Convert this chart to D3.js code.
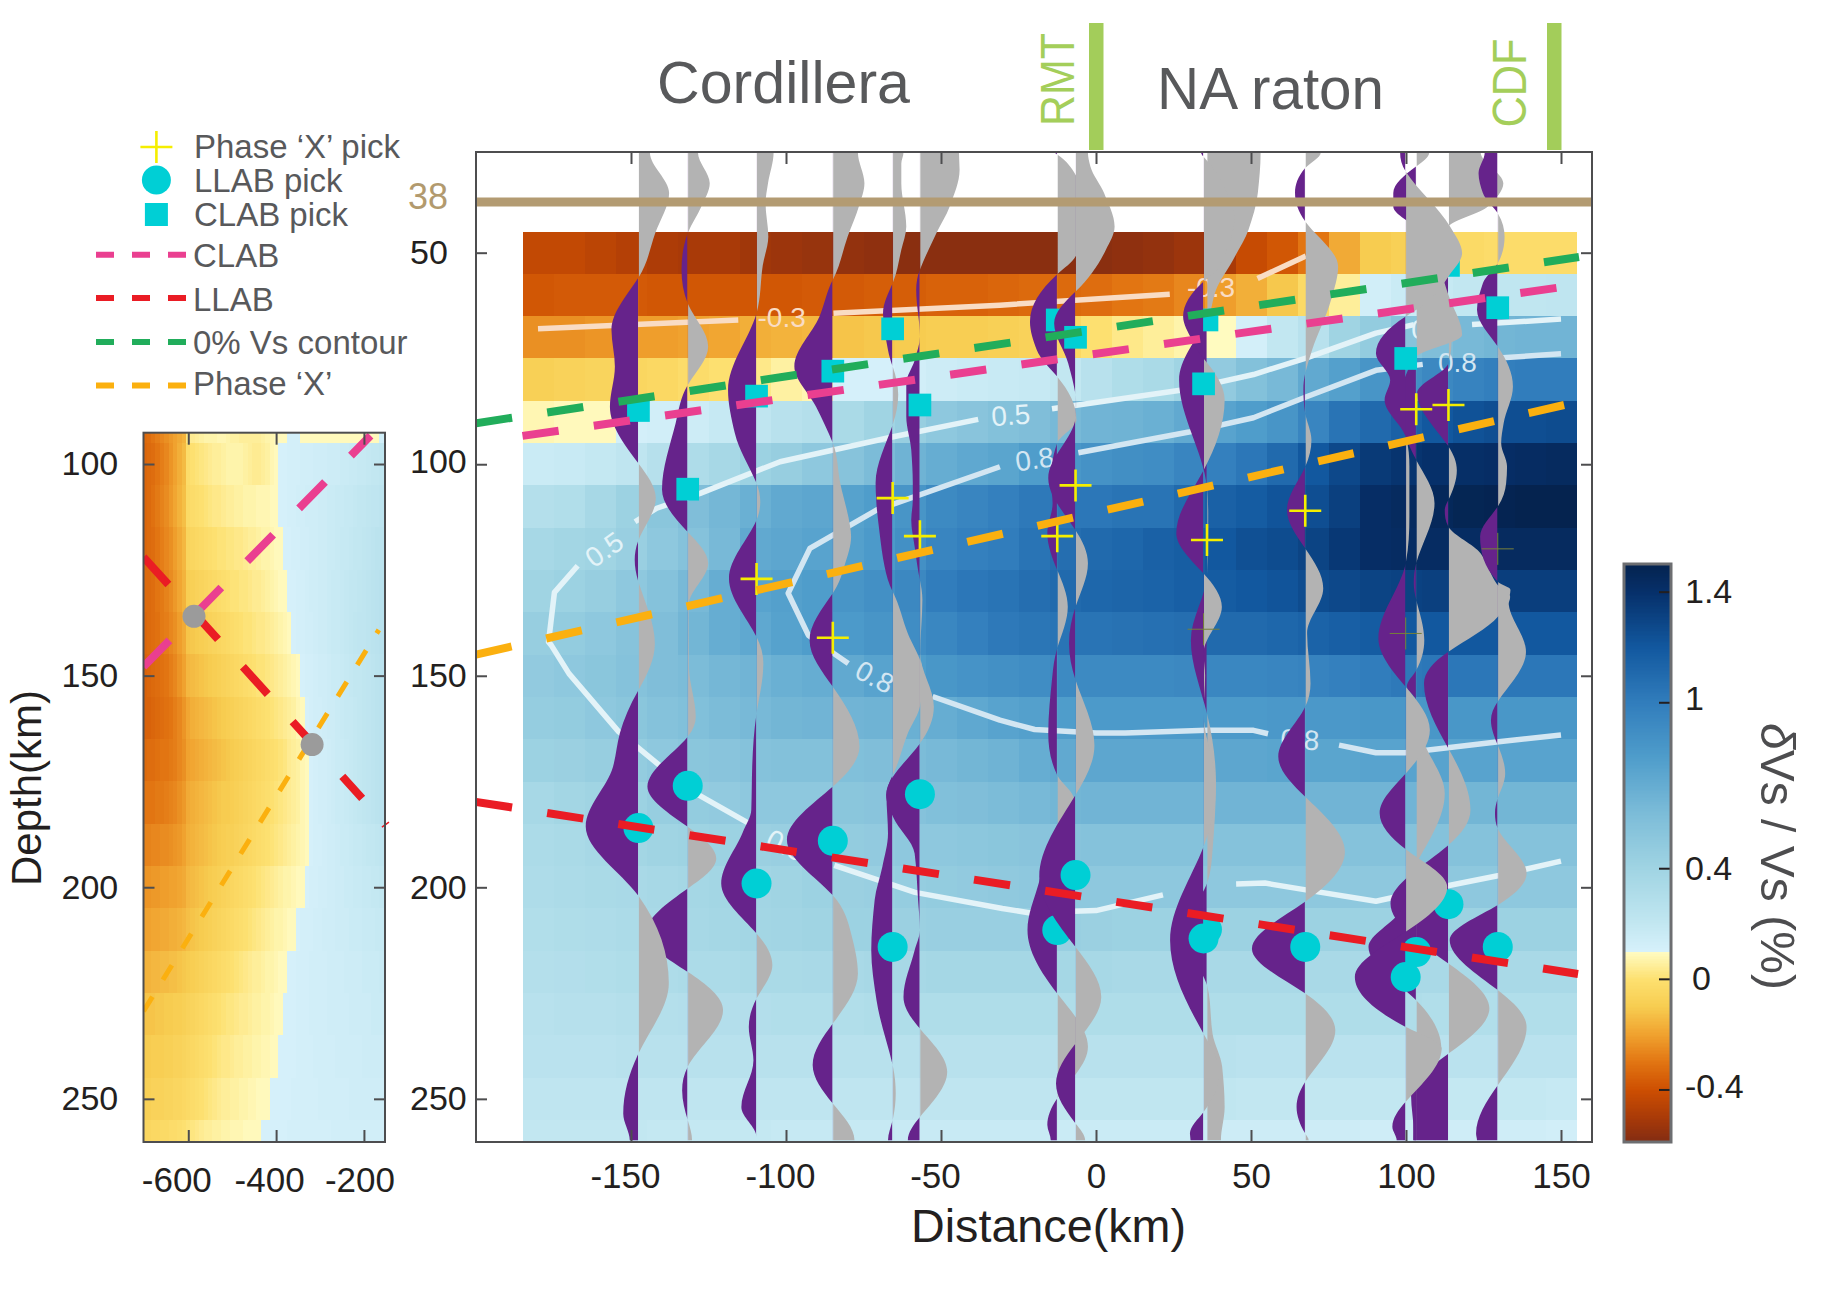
<!DOCTYPE html>
<html>
<head>
<meta charset="utf-8">
<script src="https://cdnjs.cloudflare.com/ajax/libs/d3/7.8.5/d3.min.js"></script>
<style>
  body { margin: 0; background: #fff; }
  text { font-family: "Liberation Sans", Arial, sans-serif; }
</style>
</head>
<body>
<div id="graphArea"></div>
<script>
// main section, Vs anomaly cells (%)
const mapCols = [-180,-170,-160,-150,-140,-130,-120,-110,-100,-90,-80,-70,-60,-50,-40,-30,-20,-10,0,10,20,30,40,50,60,70,80,90,100,110,120,130,140,150];
const mapDepths = [50,60,70,80,90,100,110,120,130,140,150,160,170,180,190,200,210,220,230,240,250,260];
const mapRows = [
  [-.43,-.43,-.45,-.47,-.49,-.5,-.5,-.52,-.53,-.54,-.55,-.56,-.57,-.57,-.57,-.57,-.57,-.57,-.57,-.56,-.55,-.53,-.5,-.42,-.38,-.3,-.18,-.1,-.08,-.04,-.03,-.02,-.02,-.02],
  [-.38,-.37,-.37,-.37,-.38,-.38,-.38,-.38,-.38,-.37,-.37,-.36,-.36,-.35,-.35,-.34,-.33,-.33,-.32,-.3,-.29,-.26,-.21,-.17,-.11,-.03,.05,.13,.16,.18,.2,.21,.21,.22],
  [-.24,-.24,-.23,-.21,-.21,-.2,-.19,-.17,-.16,-.15,-.12,-.11,-.1,-.09,-.09,-.08,-.07,-.04,0,.03,.05,.07,.095,.12,.2,.26,.4,.47,.54,.58,.62,.64,.65,.65],
  [-.08,-.07,-.06,-.05,-.04,-.02,0,.03,.06,.08,.11,.11,.13,.15,.16,.17,.18,.2,.26,.31,.34,.4,.48,.56,.62,.72,.78,.85,.89,.93,.96,.99,1,1],
  [.08,.09,.09,.12,.13,.15,.18,.22,.26,.28,.34,.4,.45,.5,.53,.56,.58,.62,.65,.66,.68,.72,.76,.8,.85,.95,1.05,1.1,1.15,1.2,1.23,1.25,1.25,1.26],
  [.16,.17,.19,.22,.27,.32,.36,.42,.45,.5,.54,.6,.66,.7,.73,.75,.8,.84,.87,.89,.9,.95,.98,1.03,1.1,1.2,1.28,1.35,1.38,1.4,1.41,1.42,1.43,1.44],
  [.28,.3,.36,.42,.52,.58,.63,.68,.72,.74,.77,.8,.85,.92,.95,.98,1.02,1.03,1.03,1.05,1.05,1.1,1.15,1.18,1.22,1.25,1.32,1.42,1.44,1.46,1.48,1.49,1.5,1.5],
  [.36,.38,.4,.44,.5,.55,.62,.72,.74,.76,.78,.82,.88,.95,.98,1,1.05,1.08,1.1,1.12,1.15,1.17,1.2,1.24,1.26,1.3,1.36,1.42,1.43,1.43,1.43,1.44,1.44,1.44],
  [.4,.42,.45,.5,.55,.62,.7,.76,.78,.8,.85,.88,.93,1,1.03,1.05,1.08,1.1,1.12,1.13,1.14,1.16,1.18,1.2,1.22,1.26,1.28,1.3,1.31,1.32,1.32,1.33,1.33,1.33],
  [.45,.47,.5,.54,.58,.64,.7,.73,.77,.8,.82,.85,.9,.94,.98,1.02,1.04,1.05,1.05,1.06,1.07,1.08,1.1,1.1,1.12,1.14,1.16,1.18,1.2,1.2,1.2,1.2,1.2,1.2],
  [.48,.5,.52,.55,.58,.6,.63,.65,.68,.7,.72,.76,.8,.84,.86,.88,.9,.92,.92,.92,.92,.93,.94,.94,.95,.96,.98,1,1.02,1.03,1.03,1.03,1.03,1.03],
  [.46,.47,.5,.52,.55,.57,.6,.62,.64,.65,.65,.66,.68,.7,.73,.76,.78,.8,.82,.82,.82,.82,.82,.82,.83,.83,.83,.84,.84,.84,.84,.84,.84,.84],
  [.42,.43,.45,.47,.5,.52,.53,.55,.56,.56,.57,.58,.6,.62,.64,.66,.7,.72,.74,.74,.74,.74,.74,.74,.75,.75,.75,.76,.76,.76,.76,.76,.76,.76],
  [.36,.38,.4,.42,.45,.47,.48,.5,.5,.5,.52,.53,.55,.57,.58,.6,.62,.64,.65,.65,.65,.65,.65,.65,.65,.65,.65,.65,.65,.65,.64,.64,.64,.64],
  [.33,.34,.36,.38,.4,.41,.42,.43,.44,.46,.47,.48,.5,.5,.51,.52,.53,.54,.55,.55,.55,.55,.55,.55,.55,.55,.55,.55,.55,.55,.55,.55,.55,.55],
  [.32,.33,.34,.35,.36,.37,.38,.39,.4,.42,.43,.44,.46,.47,.48,.49,.5,.5,.5,.5,.5,.5,.5,.5,.5,.5,.5,.5,.5,.5,.5,.5,.5,.5],
  [.3,.31,.32,.33,.35,.36,.37,.38,.39,.4,.42,.42,.43,.44,.44,.44,.44,.44,.43,.42,.42,.42,.42,.42,.42,.42,.42,.42,.42,.42,.42,.42,.42,.42],
  [.28,.29,.3,.31,.32,.33,.33,.34,.34,.35,.35,.36,.36,.37,.37,.37,.37,.37,.36,.35,.35,.35,.35,.35,.35,.35,.35,.35,.35,.35,.35,.35,.35,.35],
  [.26,.27,.27,.28,.28,.29,.29,.29,.3,.3,.3,.31,.31,.31,.31,.31,.31,.31,.31,.31,.31,.31,.31,.31,.31,.31,.31,.31,.31,.3,.3,.3,.3,.3],
  [.25,.25,.25,.26,.26,.26,.26,.26,.26,.26,.26,.26,.26,.26,.26,.26,.26,.26,.26,.26,.26,.26,.26,.25,.25,.25,.25,.25,.25,.25,.25,.25,.25,.25],
  [.22,.22,.22,.22,.22,.22,.22,.22,.22,.22,.22,.22,.22,.22,.22,.22,.22,.21,.21,.21,.21,.21,.21,.2,.2,.2,.2,.2,.2,.19,.19,.19,.19,.18],
  [.2,.2,.2,.2,.19,.19,.19,.19,.18,.18,.18,.18,.17,.17,.17,.17,.17,.16,.16,.16,.16,.16,.15,.15,.15,.15,.15,.14,.14,.14,.14,.14,.14,.13]
];

// left panel cells
const sideCols = d3.range(-700, -150, 10);
const sideDepths = [90,100,110,120,130,140,150,160,170,180,190,200,210,220,230,240,250,260];
const sideRows = [
  [-.33,-.32,-.3,-.28,-.26,-.24,-.22,-.2,-.18,-.16, .02,.04,.05,.06,.07,.07,.07,.08,.08,.07,.06,.06,.05,.05,.05,.05,.05,.06,.07,.08,.09,.09, .09, .12,.12,.12, .09,.09,.09,.09,.09,.09,.09,.09,.09,.09,.09,.09,.09,.09,.09,.09,.09,.09, .13],
  [-.34,-.33,-.32,-.3,-.28,-.26,-.23,-.2,-.17,-.14, -.02,0,.01,.02,.03,.04,.05,.05,.06,.07,.07,.07,.07,.06,.05,.04,.04,.05,.06,.08,.09, .11,.11,.12,.12,.12,.13,.13,.13,.14,.14,.14,.15,.15,.15,.16,.16,.17,.17,.18,.18,.19,.2,.2,.21],
  [-.34,-.33,-.31,-.29,-.27,-.25,-.22,-.19,-.16,-.13, -.03,-.02,-.01,0,.01,.02,.03,.03,.04,.05,.05,.06,.06,.07,.07,.07,.08,.08,.08,.09,.09, .11,.11,.12,.12,.13,.13,.14,.14,.14,.15,.15,.16,.16,.17,.17,.18,.18,.19,.2,.2,.21,.22,.22,.23],
  [-.34,-.33,-.32,-.3,-.28,-.26,-.24,-.21,-.18,-.15, -.06,-.05,-.04,-.03,-.02,-.01,0,.01,.01,.02,.02,.03,.03,.04,.05,.05,.06,.07,.07,.08,.09,.09, .11,.11,.12,.12,.13,.13,.14,.14,.15,.15,.16,.16,.17,.18,.18,.19,.2,.2,.21,.22,.23,.24,.24],
  [-.33,-.33,-.32,-.3,-.29,-.27,-.25,-.22,-.19,-.16, -.09,-.08,-.07,-.06,-.05,-.04,-.03,-.02,-.01,0,.01,.01,.02,.02,.03,.04,.04,.05,.06,.07,.08,.09,.09, .11,.11,.12,.12,.13,.14,.14,.15,.15,.16,.17,.17,.18,.19,.2,.2,.21,.22,.23,.24,.25,.26],
  [-.34,-.33,-.32,-.31,-.29,-.28,-.26,-.24,-.21,-.18, -.12,-.11,-.1,-.09,-.08,-.07,-.06,-.05,-.04,-.03,-.02,-.01,0,.01,.01,.02,.03,.03,.04,.05,.06,.07,.08,.09, .11,.12,.12,.13,.13,.14,.15,.15,.16,.17,.17,.18,.19,.2,.21,.22,.22,.23,.24,.25,.26],
  [-.35,-.34,-.33,-.32,-.31,-.3,-.28,-.26,-.23,-.2, -.15,-.14,-.13,-.12,-.11,-.1,-.09,-.08,-.07,-.06,-.05,-.04,-.03,-.02,-.01,0,.01,.01,.02,.03,.04,.05,.06,.07,.08,.09, .11,.12,.12,.13,.14,.14,.15,.16,.16,.17,.18,.19,.2,.2,.21,.22,.23,.24,.25],
  [-.35,-.35,-.34,-.33,-.32,-.31,-.3,-.28,-.26,-.23, -.19,-.17,-.16,-.15,-.14,-.13,-.12,-.11,-.1,-.09,-.08,-.07,-.06,-.05,-.04,-.03,-.02,-.01,0,.01,.02,.03,.04,.05,.06,.08,.09, .11,.12,.13,.13,.14,.15,.15,.16,.17,.18,.18,.19,.2,.21,.22,.23,.24,.25],
  [-.33,-.32,-.32,-.31,-.3,-.3,-.29,-.28,-.26,-.24, -.2,-.19,-.18,-.17,-.16,-.15,-.14,-.13,-.12,-.11,-.1,-.09,-.08,-.07,-.06,-.05,-.04,-.03,-.02,-.01,0,.01,.02,.04,.05,.06,.08,.09, .11,.12,.13,.13,.14,.15,.16,.16,.17,.18,.19,.2,.21,.22,.23,.24,.25],
  [-.3,-.3,-.3,-.29,-.29,-.28,-.27,-.26,-.24,-.22, -.18,-.17,-.16,-.15,-.14,-.13,-.12,-.11,-.1,-.1,-.09,-.08,-.07,-.06,-.05,-.04,-.03,-.02,-.01,0,.01,.02,.03,.04,.05,.06,.08,.09, .11,.12,.13,.13,.14,.15,.16,.16,.17,.18,.19,.2,.21,.22,.23,.24,.25],
  [-.27,-.27,-.26,-.26,-.25,-.25,-.24,-.23,-.22,-.2, -.17,-.16,-.15,-.14,-.13,-.12,-.11,-.1,-.09,-.08,-.08,-.07,-.06,-.05,-.04,-.03,-.02,-.01,0,.01,.02,.03,.04,.05,.06,.07,.08,.09, .11,.12,.12,.13,.14,.14,.15,.16,.16,.17,.18,.18,.19,.2,.2,.21,.22],
  [-.23,-.23,-.22,-.22,-.21,-.21,-.2,-.2,-.19,-.18, -.15,-.14,-.13,-.12,-.11,-.1,-.09,-.08,-.07,-.06,-.05,-.04,-.03,-.02,-.01,0,.01,.02,.03,.04,.05,.06,.07,.07,.08,.09,.09, .11,.12,.12,.13,.13,.14,.14,.15,.15,.16,.16,.17,.17,.18,.18,.19,.19,.2],
  [-.2,-.2,-.19,-.19,-.18,-.18,-.17,-.17,-.16,-.15, -.13,-.12,-.11,-.1,-.09,-.08,-.07,-.06,-.05,-.04,-.03,-.02,-.01,0,.01,.02,.03,.04,.05,.06,.07,.07,.08,.09,.09, .11,.12,.12,.12,.13,.13,.14,.14,.14,.15,.15,.15,.16,.16,.16,.17,.17,.17,.18,.18],
  [-.16,-.16,-.15,-.15,-.14,-.14,-.13,-.13,-.12,-.11, -.1,-.09,-.08,-.07,-.06,-.05,-.04,-.03,-.02,-.01,0,.01,.02,.03,.04,.05,.05,.06,.07,.07,.08,.09,.09, .11,.11,.12,.12,.12,.13,.13,.13,.13,.14,.14,.14,.14,.15,.15,.15,.15,.16,.16,.16,.16,.17],
  [-.12,-.12,-.12,-.11,-.11,-.1,-.1,-.09,-.09,-.08, -.07,-.06,-.05,-.04,-.03,-.02,-.01,0,.01,.02,.02,.03,.04,.04,.05,.06,.06,.07,.07,.08,.09,.09, .11,.11,.11,.12,.12,.12,.13,.13,.13,.13,.14,.14,.14,.14,.14,.15,.15,.15,.15,.15,.16,.16,.16],
  [-.1,-.1,-.09,-.09,-.09,-.08,-.08,-.07,-.07,-.06, -.05,-.04,-.03,-.02,-.01,0,.01,.02,.03,.03,.04,.05,.05,.06,.06,.07,.07,.08,.08,.09,.09, .11,.11,.11,.11,.12,.12,.12,.12,.13,.13,.13,.13,.13,.14,.14,.14,.14,.14,.14,.15,.15,.15,.15,.15],
  [-.08,-.08,-.07,-.07,-.07,-.06,-.06,-.05,-.05,-.04, -.03,-.02,-.01,0,.01,.02,.03,.04,.05,.05,.06,.06,.07,.07,.08,.08,.09,.09,.09, .11,.11,.11,.11,.11,.12,.12,.12,.12,.12,.12,.13,.13,.13,.13,.13,.13,.13,.14,.14,.14,.14,.14,.14,.14,.14],
  [-.05,-.05,-.04,-.04,-.03,-.03,-.02,-.02,-.01,0, .01,.02,.03,.04,.05,.05,.06,.06,.07,.07,.08,.08,.08,.09,.09,.09,.09, .11,.11,.11,.11,.11,.11,.12,.12,.12,.12,.12,.12,.12,.12,.12,.12,.13,.13,.13,.13,.13,.13,.13,.13,.13,.13,.13,.13]
];

// colour bar
const cmapValues = [-.6,-.5,-.4,-.3,-.2,-.1,0,.0999,.1,.2,.4,.6,.8,1,1.2,1.4,1.5];
const cmapColors = ["#7d2a14","#a93a08","#cd4f02","#e27512","#f0a22f","#f7cc50","#fde070","#fffcc4","#d7f1fb","#c2e7f1","#a0d4e3","#7cbcd8","#4f9dcb","#317dbc","#12589f","#06306a","#05234f"];
const cbarTicks = [-.4, 0, .4, 1, 1.4];

// station traces: distance of each baseline, then [depth, amplitude] read at zero crossings and peaks
const traceBase = {A:-147.6,B:-131.7,C:-109.5,D:-84.9,E:-65.6,F:-56.8,G:-12.5,H:-6.6,I:34.7,J:35.8,K:67.5,L:99.9,M:103.3,N:113.7,O:129.6};
const traceOrder = ["B","A","C","D","E","F","G","H","J","I","K","N","M","L","O"];
const traceA = [[26.3,3.7],[35.9,9.9],[45.4,5.4],[55.9,0],[68.3,-8.7],[76.9,-7.6],[86.4,-9.2],[99.8,0],[108,5.6],[118,0],[122.6,-1.2],[127.8,0],[142.4,5.3],[153.4,0],[163.6,-6],[171.5,-8.2],[185.6,-17],[202,0],[222.6,9.8],[239.3,0],[253.5,-4.9],[259.8,-2.8]];
const traceB = [[26.3,3.3],[33.6,7.1],[39.1,4.4],[45.4,0],[54.1,-2],[62,0],[72.2,6.6],[81.3,0],[90.3,-3.9],[106,-8.3],[116,0],[123.4,6.6],[133.3,.3],[147.9,.4],[159.7,2.6],[164.4,0],[176.2,-13],[185.7,0],[193.2,9.2],[200.3,0],[210.9,-13.5],[220,0],[229,11.4],[242.4,0],[248,-1.8],[255,0],[259.8,1.4]];
const traceC = [[26.3,5.5],[33.6,3.7],[38.3,2.9],[46.2,3.8],[53,2],[64.3,0],[82.4,-9.2],[92.7,-7],[104.5,0],[108.9,1.2],[113.2,0],[127,-8.9],[140.8,0],[147.1,2.2],[158.9,0],[171.5,-1.4],[181.7,-1.7],[186.9,-4.4],[199.1,-11.4],[210.9,0],[218.4,5.1],[226.3,0],[233,-2.5],[240.9,-1],[251.9,-4.9],[259,0]];
const traceD = [[26.3,8.1],[33.6,10.2],[39.1,8.4],[46.2,4.8],[56.4,0],[65.1,-4.3],[76.9,-12.4],[86.4,-5.4],[95,0],[104.5,2.4],[114.8,5.6],[117.1,5.9],[124.2,3.7],[130.5,0],[141.6,-7.5],[152.6,0],[166.8,8.6],[176.2,0],[188.8,-14.8],[201.9,0],[210.9,5.9],[220.4,8.1],[232.2,0],[242,-6.5],[251.1,0],[259.8,7]];
const traceE = [[26.3,3.5],[28.9,2.8],[33.6,2.8],[43.8,4.4],[49.3,2.8],[57.2,0],[64.3,-3.1],[73,-1.5],[76.9,0],[83.6,1.8],[90.7,0],[104.5,-5.5],[108.5,-5.3],[116.3,-4.2],[124.2,-2.6],[130.1,0],[140,4.9],[147.9,9.5],[151,10],[157.3,8.8],[163.6,4.9],[173.5,0],[178.2,-2],[187.3,-1.5],[195.1,-3.3],[203,-5.8],[214.9,-6.9],[226.7,-5.2],[242,0],[248.7,1],[255,0],[259.8,-1.5]];
const traceF = [[26.3,12.6],[30.4,12.8],[39.1,9.6],[45.4,5.3],[54,0],[58.8,-1.2],[69.8,0],[75.4,-1.7],[80.9,-4.4],[88.7,-4.4],[96.6,-2.8],[104.5,-2.3],[108.5,-2.3],[113.2,-2.8],[119.5,-1.7],[127.4,0],[132,.8],[144.7,.1],[157.3,4.5],[166,0],[178.2,-10.9],[183.3,-8.7],[192,-1.7],[203,-.6],[210.1,0],[214.9,-1.7],[225.9,-5.3],[233.4,0],[243.6,8.8],[254.3,0],[259.8,-3.9]];
const traceG = [[26.3,-.7],[26.8,0],[31.6,5.9],[41.5,11],[50.9,5.9],[55.1,0],[66.3,-8.8],[73,-6.6],[79.3,0],[89.5,6.2],[95,0],[104.5,-2],[109.2,-1.5],[116.3,-3.2],[125,0],[133.7,3.4],[143.5,0],[150.2,-1.6],[163.6,-2.9],[173.5,0],[179.4,5.5],[186.1,0],[199.1,-6],[210.1,-9.6],[225.1,0],[237.7,9.9],[249.9,0],[256.2,-3.2],[259.8,-2.1]];
const traceH = [[26.3,4],[29.6,4.8],[35.9,9.2],[43.8,12.6],[49.3,9.8],[59.2,0],[66.7,-6.9],[76.1,-2.4],[83.6,0],[85.6,.2],[89.1,0],[103.3,-8.8],[115.6,0],[123.4,4],[133.7,0],[142.3,-2.1],[151,0],[166.4,6.1],[178.2,0],[197.5,-11.7],[214.1,0],[225.9,8.3],[236.9,0],[246.4,-6.3],[255.8,0],[259.8,3.1]];
const traceI = [[26.3,-.8],[27.3,0],[33.6,6],[41.5,10],[53.3,5],[56.8,0],[65.1,-6.6],[70.6,-3.8],[75,0],[84.8,6.8],[101.4,0],[116.3,-8.8],[125.8,0],[133.7,5.9],[144.7,0],[150,.5],[158.9,0],[176,4],[190.4,0],[212.5,-10.8],[234.6,0],[244,5.1],[253.1,0],[258.2,-4.4],[259.8,-4.2]];
const traceJ = [[26.3,17.3],[35.9,16.4],[44.6,13.4],[51.7,8.4],[58.8,2.9],[65.9,0],[80.1,-9],[105.3,0],[112.4,.4],[126.2,0],[141.6,-5.2],[158.9,0],[175.4,2.9],[191.2,1.8],[199.1,0],[210.9,-7.8],[223.1,0],[234.6,1.8],[242.4,4.9],[251.9,5.7],[259.8,4.5]];
const traceK = [[26.3,5],[30,0],[35.9,-3.3],[42.6,0],[53.3,10.6],[61.2,8.3],[73,2.2],[78.5,0],[82.4,-.6],[88,0],[94.3,2],[100.6,0],[110.8,-5.9],[119.9,0],[129.3,5.8],[140,.6],[151.8,1.7],[157.3,0],[169.1,-8.7],[178.6,0],[191.6,12.8],[203.4,0],[214.5,-17.2],[225.1,0],[233.8,9.7],[246,0],[251.9,-2.8],[258.2,0],[259.8,1.1]];
const traceL = [[26.3,-1.8],[30.8,0],[43.8,14.3],[50.1,18.2],[55.6,13.8],[61.2,7.7],[65.1,0],[73.8,-9.6],[80.1,-5],[84.8,-6.8],[93.5,0],[100.6,1.2],[112.4,1.2],[123.4,0],[141.2,-8.8],[152.6,0],[162.8,7.8],[173.1,0],[182.5,-8.4],[191,0],[199.9,13.4],[210.5,0],[221.2,-16.4],[233,0],[238.1,11.6],[250.7,0],[256.6,-4.3],[259.8,-2.9]];
const traceM = [[26.3,4.2],[29.6,0],[35.9,-7.4],[39.1,-7.4],[44.2,0],[61.2,11],[69.4,14.8],[74.6,0],[87,-5],[99,0],[109.2,5.9],[123.4,0],[128,-.8],[132.1,0],[141.6,2.6],[148.7,0],[152.5,-3],[155.7,0],[163.6,1.5],[177.8,9.2],[194.4,0],[205.4,-5],[214.1,-15.4],[226.7,0],[238.1,8.1],[247.2,0],[259.8,-1]];
const traceN = [[26.3,10.4],[33.6,17.7],[39.1,12.7],[43.8,0],[52,-3],[61.2,-6.2],[67.5,0],[70,1],[76.1,0],[83.2,-10.1],[95.8,0],[101.4,2.7],[108.4,0],[110.8,-1.2],[114.8,0],[121.1,10.4],[128.2,15.5],[131.3,19.9],[136,16],[144.3,0],[151.8,-7.9],[167.2,0],[181.7,7.1],[190,0],[203.8,-18.7],[218,0],[228.6,13.2],[239.3,0],[248.7,-12.1],[259.8,-11]];
const traceO = [[26.3,-4.2],[31.2,-6.2],[35.9,-4.8],[40.7,0],[46.2,2.2],[52.5,0],[57.2,-4.8],[63.5,-6.7],[72.2,0],[81.6,4.9],[90.3,1.9],[95,1.1],[100.6,3],[104.5,2.7],[110,0],[117.1,-5.7],[127.8,0],[129.7,4.1],[132.5,3.5],[144.3,9.1],[156.1,0],[160.5,-2.2],[166.4,0],[173.1,2.4],[179,0],[182.5,-.9],[186.1,0],[196.7,9.3],[204.2,0],[212.5,-15.5],[224.3,0],[233,9.3],[246.8,0],[258.2,-7],[259.8,-6.7]];
const traces = {A:traceA,B:traceB,C:traceC,D:traceD,E:traceE,F:traceF,G:traceG,H:traceH,I:traceI,J:traceJ,K:traceK,L:traceL,M:traceM,N:traceN,O:traceO};

// picks (depth per trace)
const clabPicks = {A:87.3,B:105.9,C:83.9,D:78,E:68,F:86,G:65.9,H:70,I:81,J:65.9,L:75,N:53,O:63};
const llabPicks = {A:186,B:176,C:199.1,D:189,E:214.1,F:178,G:210.1,H:197.1,I:212.1,J:210,K:214.1,L:221.2,M:215.3,N:204,O:214.1};
const xPicks = {C:127.1,D:141,E:108,F:117,G:117,H:105,J:117.9,K:111,M:87,N:86};
const xPicksFaint = {I:139,L:140,O:120};

// interpreted interfaces
const clabLine = [[-185,93.3],[148.7,58.3]];
const llabLine = [[-200,179.8],[155.5,220.5]];
const zeroLine = [[-200,90.3],[155.8,51]];
const phaseLine = [[-200,145],[151,86]];
const sideClab = [[-702,147.9],[-185,93.3]];
const sideLlab = [[-702,122],[-204,179]];
const sidePhase = [[-702,229.3],[-166,139.2]];
const sideStray = [[-159,185.8],[-143,184.6]];
const sideCross = [[-587,136],[-318,166.3]];
const mohoDepth = 38;

// contours
const contour03 = [[[-180,68],[-115.4,65.9]],[[-84.7,64.3],[-31,62.4],[23.8,59.8]],[[52.1,56.1],[67.7,50.8]]];
const contour05 = [
  [[-148.7,113.6],[-141.7,110.4],[-127.7,106.9],[-101.9,99.4],[-65.4,93.5],[-38,89.4]],
  [[-14.2,86.9],[30,82.2],[50.8,78.8],[67.7,74.9],[90.3,69],[102.6,67]],
  [[121.3,67],[150,65.7]],
  [[-167.2,124],[-174.7,130.3],[-176.6,142],[-175.8,142.7],[-170,149.5],[-154,163.2],[-131.5,176.8],[-111.7,185]],
  [[-84.4,194.8],[-58.4,201.2],[-30.2,205],[-21.7,206],[0,205.5],[21.6,201.8]],
  [[45.2,199.2],[54.5,199],[67.7,200.6],[90.3,203.3],[111,200],[130,197.2],[150,193.8]]
];
const contour08 = [
  [[-79.9,147.1],[-84.7,144.7],[-92.8,140.4],[-99.3,130.5],[-92.3,119.9],[-70.7,110.8],[-31,100.6]],
  [[-5.7,97.3],[30,92.4],[50.8,89],[67.7,84.1],[90.3,77.8],[105.4,76.4]],
  [[129.9,74.9],[150,73.9]],
  [[-52.7,154.9],[-31,160.5],[-19.8,162.7],[0,163.5],[9.4,163.5],[35.7,162.9],[50.8,162.9],[55.5,163.7]],
  [[78.4,166.4],[90.3,168.2],[99.7,168.2],[129.9,165.6],[150,164]]
];
const contourLabels = [
  ["-0.3",-101.4,65.1,0,"#f9dcc4"],["-0.3",37.1,58,0,"#f9dcc4"],
  ["0.5",-158.7,120.1,-35,"#e3f3f8"],["0.5",-27.5,88.3,-4,"#e3f3f8"],["0.5",108,68,0,"#e3f3f8"],["0.5",-100,190,25,"#e3f3f8"],
  ["0.8",-19.8,98.7,-8,"#d3e6f2"],["0.8",116.6,75.8,0,"#d3e6f2"],["0.8",-71.3,150.2,28,"#d3e6f2"],["0.8",65.8,165,3,"#d3e6f2"]
];

// legend
const legendLines = [["CLAB","#ea3f90"],["LLAB","#ea1c24"],["0% Vs contour","#21ad5b"],["Phase ‘X’","#fbb00f"]];

const purple = "#66238b", grey = "#b3b3b3", cyan = "#00cfd5", yellow = "#f5ee00";
const inkDark = "#231f20", inkGrey = "#58595b", frame = "#4d4d4f";

var svg = d3.select("#graphArea").append("svg").attr("width", 1830).attr("height", 1290).style("display", "block");
var defs = svg.append("defs");

var color = d3.scaleLinear().domain(cmapValues).range(cmapColors).clamp(true);

// scales
var x = d3.scaleLinear().domain([-200, 160]).range([476, 1592]);
var y = d3.scaleLinear().domain([26.2, 260.2]).range([152, 1142]);
var xs = d3.scaleLinear().domain([-702, -152]).range([143.5, 385]);
var ys = d3.scaleLinear().domain([92.6, 260.2]).range([432.7, 1142]);
var yc = d3.scaleLinear().domain([-0.59, 1.5]).range([1142, 564]);

defs.append("clipPath").attr("id", "clipMain").append("rect").attr("x", 476).attr("y", 152).attr("width", 1116).attr("height", 990);
defs.append("clipPath").attr("id", "clipSide").append("rect").attr("x", 143.5).attr("y", 432.7).attr("width", 241.5).attr("height", 709.3);

function drawCells(g, cols, depths, rows, sx, sy, w, h) {
  rows.forEach((row, r) => {
    g.selectAll(null).data(row).enter().append("rect")
      .attr("x", (d, i) => sx(cols[i] - w / 2))
      .attr("y", sy(depths[r] - h / 2))
      .attr("width", sx(w) - sx(0) + 0.5)
      .attr("height", sy(h) - sy(0) + 0.5)
      .attr("fill", d => color(d));
  });
}

function dashed(g, sx, sy, pts, col, width, dash) {
  g.append("line")
    .attr("x1", sx(pts[0][0])).attr("y1", sy(pts[0][1]))
    .attr("x2", sx(pts[1][0])).attr("y2", sy(pts[1][1]))
    .attr("stroke", col).attr("stroke-width", width)
    .attr("stroke-dasharray", dash);
}

function cross(g, cx, cy, col, arm, width) {
  g.append("path")
    .attr("d", `M${cx - arm},${cy}H${cx + arm}M${cx},${cy - arm}V${cy + arm}`)
    .attr("stroke", col).attr("stroke-width", width).attr("fill", "none");
}

function square(g, cx, cy, size) {
  g.append("rect").attr("x", cx - size / 2).attr("y", cy - size / 2).attr("width", size).attr("height", size).attr("fill", cyan);
}

function dot(g, cx, cy, r) {
  g.append("circle").attr("cx", cx).attr("cy", cy).attr("r", r).attr("fill", cyan);
}

function styleAxis(g, col) {
  g.select(".domain").remove();
  g.selectAll(".tick line").attr("stroke", col || frame).attr("stroke-width", 2);
  g.selectAll("text").attr("font-size", 34).attr("fill", inkDark);
}

// smooth path through the picks, flat at peaks and steeper through zero crossings so lobes stay round
function wigglePath(pts) {
  var tang = pts.map((p, i) => {
    if (i === 0 || i === pts.length - 1) return 0;
    var s0 = (p[0] - pts[i - 1][0]) / (p[1] - pts[i - 1][1]);
    var s1 = (pts[i + 1][0] - p[0]) / (pts[i + 1][1] - p[1]);
    if (s0 * s1 <= 0) return 0;
    var m = 2 * s0 * s1 / (s0 + s1);
    return p[2] === 0 ? m * 1.5 : m;
  });
  var d = `M${pts[0][0]},${pts[0][1]}`;
  for (var i = 1; i < pts.length; i++) {
    var h = pts[i][1] - pts[i - 1][1];
    d += `C${pts[i - 1][0] + tang[i - 1] * h / 3},${pts[i - 1][1] + h / 3},${pts[i][0] - tang[i] * h / 3},${pts[i][1] - h / 3},${pts[i][0]},${pts[i][1]}`;
  }
  return d;
}

/// left panel

var side = svg.append("g").attr("clip-path", "url(#clipSide)");
var sideMap = side.append("g").attr("shape-rendering", "crispEdges");
drawCells(sideMap, sideCols, sideDepths, sideRows, xs, ys, 10, 10);
dashed(side, xs, ys, sideClab, "#ea3f90", 8, "37 37");
dashed(side, xs, ys, sideLlab, "#ea1c24", 8, "37 37");
dashed(side, xs, ys, sidePhase, "#fbb00f", 5, "17 20");
side.selectAll(null).data(sideCross).enter().append("circle")
  .attr("cx", d => xs(d[0])).attr("cy", d => ys(d[1])).attr("r", 11.5).attr("fill", "#9b9b9b");
svg.append("line")
  .attr("x1", xs(sideStray[0][0])).attr("y1", ys(sideStray[0][1]))
  .attr("x2", xs(sideStray[1][0])).attr("y2", ys(sideStray[1][1]))
  .attr("stroke", "#ea1c24").attr("stroke-width", 1.5);

var sideTicks = { "-600": -12, "-400": -7, "-200": -4.5 };
var sb = svg.append("g").attr("transform", "translate(0,1142)")
  .call(d3.axisBottom(xs).tickValues([-600, -400, -200]).tickSizeInner(-12).tickSizeOuter(0).tickPadding(25).tickFormat(d => d));
styleAxis(sb);
sb.selectAll("text").attr("font-size", 35).attr("dx", d => sideTicks[d]);
var st = svg.append("g").attr("transform", "translate(0,432.7)")
  .call(d3.axisTop(xs).tickValues([-600, -400, -200]).tickSizeInner(-12).tickSizeOuter(0).tickFormat(""));
styleAxis(st);
var sl = svg.append("g").attr("transform", "translate(143.5,0)")
  .call(d3.axisLeft(ys).tickValues([100, 150, 200, 250]).tickSizeInner(-11).tickSizeOuter(0).tickPadding(0));
styleAxis(sl);
sl.selectAll("text").attr("text-anchor", "start").attr("x", -82).attr("dy", "0.32em");
var sr = svg.append("g").attr("transform", "translate(385,0)")
  .call(d3.axisRight(ys).tickValues([100, 150, 200, 250]).tickSizeInner(-11).tickSizeOuter(0).tickFormat(""));
styleAxis(sr);
svg.append("rect").attr("x", 143.5).attr("y", 432.7).attr("width", 241.5).attr("height", 709.3)
  .attr("fill", "none").attr("stroke", frame).attr("stroke-width", 2);

/// main panel

var main = svg.append("g").attr("clip-path", "url(#clipMain)");
var mainMap = main.append("g").attr("shape-rendering", "crispEdges");
drawCells(mainMap, mapCols, mapDepths, mapRows, x, y, 10, 10);

var contourLine = d3.line().x(d => x(d[0])).y(d => y(d[1])).curve(d3.curveLinear);
function drawContour(segs, col) {
  main.selectAll(null).data(segs).enter().append("path")
    .attr("d", contourLine).attr("fill", "none").attr("stroke", col).attr("stroke-width", 5.5).attr("stroke-linejoin", "round");
}
drawContour(contour03, "#f9dcc4");
drawContour(contour05, "#e3f3f8");
drawContour(contour08, "#d3e6f2");

main.selectAll(null).data(contourLabels).enter().append("text")
  .attr("transform", d => `translate(${x(d[1])},${y(d[2])}) rotate(${d[3]})`)
  .attr("text-anchor", "middle").attr("dy", "0.36em").attr("font-size", 28).attr("fill", d => d[4])
  .text(d => d[0]);

traceOrder.forEach(key => {
  var base = traceBase[key];
  var bx = x(base);
  var pts = traces[key].map(p => [x(base + p[1]), y(p[0]), p[1]]);
  var outline = wigglePath(pts) + `L${bx},${pts[pts.length - 1][1]}L${bx},${pts[0][1]}Z`;
  // small gap either side of the baseline, the section shows through as a pale line
  defs.append("clipPath").attr("id", "neg" + key).append("rect").attr("x", 476).attr("y", 152).attr("width", bx - 476 - 0.4).attr("height", 990);
  defs.append("clipPath").attr("id", "pos" + key).append("rect").attr("x", bx + 0.4).attr("y", 152).attr("width", 1592 - bx).attr("height", 990);
  main.append("path").attr("d", outline).attr("fill", grey).attr("clip-path", `url(#pos${key})`);
  main.append("path").attr("d", outline).attr("fill", purple).attr("clip-path", `url(#neg${key})`);
  if (clabPicks[key] !== undefined) square(main, bx, y(clabPicks[key]), 22.7);
  if (llabPicks[key] !== undefined) dot(main, bx, y(llabPicks[key]), 15);
});

Object.keys(xPicksFaint).forEach(key => {
  cross(main, x(traceBase[key]), y(xPicksFaint[key]), "#77803a", 16, 1);
});
Object.keys(xPicks).forEach(key => {
  cross(main, x(traceBase[key]), y(xPicks[key]), yellow, 16, 2.6);
});

// moho
main.append("line").attr("x1", 476).attr("x2", 1592).attr("y1", y(mohoDepth)).attr("y2", y(mohoDepth))
  .attr("stroke", "#b39b72").attr("stroke-width", 9);
svg.append("text").attr("x", 408).attr("y", y(mohoDepth) + 7).attr("font-size", 36).attr("fill", "#b29a6e").text("38");

dashed(main, x, y, zeroLine, "#21ad5b", 8, "36.5 35.5");
dashed(main, x, y, clabLine, "#ea3f90", 8, "36.5 35.5");
dashed(main, x, y, llabLine, "#ea1c24", 8, "36.5 35.5");
dashed(main, x, y, phaseLine, "#fbb00f", 8, "36.5 35.5");

var mainXTicks = [-150, -100, -50, 0, 50, 100, 150];
var mainYTicks = [50, 100, 150, 200, 250];
var mb = svg.append("g").attr("transform", "translate(0,1142)")
  .call(d3.axisBottom(x).tickValues(mainXTicks).tickSizeInner(-12).tickSizeOuter(0).tickPadding(21).tickFormat(d => d));
styleAxis(mb);
mb.selectAll("text").attr("font-size", 35).attr("dx", d => d < 0 ? -6 : 0);
var mt = svg.append("g").attr("transform", "translate(0,152)")
  .call(d3.axisTop(x).tickValues(mainXTicks).tickSizeInner(-12).tickSizeOuter(0).tickFormat(""));
styleAxis(mt);
var ml = svg.append("g").attr("transform", "translate(476,0)")
  .call(d3.axisLeft(y).tickValues(mainYTicks).tickSizeInner(-11).tickSizeOuter(0).tickPadding(0));
styleAxis(ml);
ml.selectAll("text").attr("text-anchor", "start").attr("x", -66).attr("dy", "0.32em")
  .attr("transform", d => d === 100 ? "translate(0,-3)" : null);
var mr = svg.append("g").attr("transform", "translate(1592,0)")
  .call(d3.axisRight(y).tickValues(mainYTicks).tickSizeInner(-11).tickSizeOuter(0).tickFormat(""));
styleAxis(mr);
svg.append("rect").attr("x", 476).attr("y", 152).attr("width", 1116).attr("height", 990)
  .attr("fill", "none").attr("stroke", frame).attr("stroke-width", 2);

svg.append("text").attr("transform", "translate(41,886) rotate(-90)").attr("font-size", 42).attr("fill", inkDark).text("Depth(km)");
svg.append("text").attr("x", 911).attr("y", 1241.5).attr("font-size", 46).attr("fill", inkDark).attr("textLength", 275).attr("lengthAdjust", "spacingAndGlyphs").text("Distance(km)");

/// titles and province bars

svg.append("text").attr("x", 657).attr("y", 103).attr("font-size", 60).attr("fill", inkGrey).attr("textLength", 253).attr("lengthAdjust", "spacingAndGlyphs").text("Cordillera");
svg.append("text").attr("x", 1157).attr("y", 109).attr("font-size", 60).attr("fill", inkGrey).attr("textLength", 227).attr("lengthAdjust", "spacingAndGlyphs").text("NA raton");
svg.append("text").attr("transform", "translate(1073.5,126) rotate(-90)").attr("font-size", 48).attr("fill", "#a4ce5a").attr("textLength", 93).attr("lengthAdjust", "spacingAndGlyphs").text("RMT");
svg.append("text").attr("transform", "translate(1526,127.5) rotate(-90)").attr("font-size", 48).attr("fill", "#a4ce5a").attr("textLength", 89).attr("lengthAdjust", "spacingAndGlyphs").text("CDF");
svg.append("rect").attr("x", 1089).attr("y", 23).attr("width", 14.5).attr("height", 127).attr("fill", "#a3cd5a");
svg.append("rect").attr("x", 1547).attr("y", 23).attr("width", 14.5).attr("height", 127).attr("fill", "#a3cd5a");

/// legend

cross(svg, 156.4, 147, yellow, 16, 2.6);
dot(svg, 156.4, 180, 14.5);
square(svg, 156.4, 214.5, 23);
[["Phase ‘X’ pick", 158], ["LLAB pick", 192], ["CLAB pick", 226]].forEach(t => {
  svg.append("text").attr("x", 194).attr("y", t[1]).attr("font-size", 33).attr("fill", inkGrey).text(t[0]);
});
var legendY = [254.7, 298, 342, 385.6], legendText = [266.7, 310.7, 354, 395];
legendLines.forEach((l, i) => {
  svg.append("line").attr("x1", 96).attr("x2", 186.7).attr("y1", legendY[i]).attr("y2", legendY[i])
    .attr("stroke", l[1]).attr("stroke-width", 6).attr("stroke-dasharray", "18 18");
  svg.append("text").attr("x", 193).attr("y", legendText[i]).attr("font-size", 33).attr("fill", inkGrey).text(l[0]);
});

/// colour bar

var cbar = svg.append("g").attr("shape-rendering", "crispEdges");
var cbarSteps = d3.range(-0.59, 1.5, 0.005);
cbar.selectAll("rect").data(cbarSteps).enter().append("rect")
  .attr("x", 1624).attr("width", 47)
  .attr("y", d => yc(d + 0.005)).attr("height", yc(0) - yc(0.005) + 0.5)
  .attr("fill", d => color(d + 0.0025));
var ca = svg.append("g").attr("transform", "translate(1671,0)")
  .call(d3.axisRight(yc).tickValues(cbarTicks).tickSizeInner(-12).tickSizeOuter(0).tickPadding(14).tickFormat(d => d));
styleAxis(ca, "#231f20");
var cbarShift = { "1": -3.5, "-0.4": -3 };
ca.selectAll("text").attr("dy", "0.32em").attr("dx", d => d === 0 ? 7 : 0)
  .attr("transform", d => cbarShift[d] ? `translate(0,${cbarShift[d]})` : null);
svg.append("rect").attr("x", 1624).attr("y", 564).attr("width", 47).attr("height", 578)
  .attr("fill", "none").attr("stroke", "#6d6e71").attr("stroke-width", 3);

var cbLabel = svg.append("text").attr("transform", "translate(1761,723) rotate(90)")
  .attr("font-size", 48).attr("fill", "#4d4d4f").attr("textLength", 267).attr("lengthAdjust", "spacingAndGlyphs");
cbLabel.append("tspan").attr("font-style", "italic").text("δ");
cbLabel.append("tspan").text("Vs / Vs (%)");
</script>
</body>
</html>
